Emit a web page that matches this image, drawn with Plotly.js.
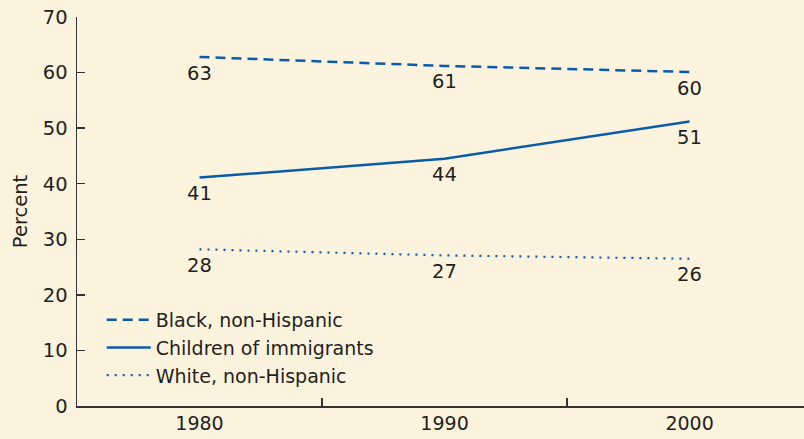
<!DOCTYPE html>
<html>
<head>
<meta charset="utf-8">
<script src="https://cdn.plot.ly/plotly-3.0.1.min.js"></script>
<style>
html,body{margin:0;padding:0;background:#fcf3df;}
#chart{width:804px;height:439px;}
</style>
</head>
<body>
<div id="chart"></div>
<script>
var years = [1980, 1990, 2000];
var blackValues = [62.8, 61.2, 60.1];
var blackLabels = ["63", "61", "60"];
var childrenValues = [41.1, 44.5, 51.2];
var childrenLabels = ["41", "44", "51"];
var whiteValues = [28.2, 27.1, 26.5];
var whiteLabels = ["28", "27", "26"];
var seriesNames = ["Black, non-Hispanic", "Children of immigrants", "White, non-Hispanic"];
var yTicks = [0, 10, 20, 30, 40, 50, 60, 70];

var blue = "#0b5ca8";
var textColor = "#231f20";
var fam = "DejaVu Sans, sans-serif";

function trace(values, name, dash, width) {
  return {
    x: years, y: values, name: name,
    type: "scatter", mode: "lines",
    line: {color: blue, width: width, dash: dash},
    hoverinfo: "skip"
  };
}

var data = [
  trace(blackValues, seriesNames[0], "10px,6px", 2.5),
  trace(childrenValues, seriesNames[1], "solid", 2.5),
  trace(whiteValues, seriesNames[2], "2px,6px", 2.2)
];

var annotations = [];
[[blackValues, blackLabels], [childrenValues, childrenLabels], [whiteValues, whiteLabels]].forEach(function (s) {
  years.forEach(function (yr, i) {
    annotations.push({
      x: yr, y: s[0][i], text: s[1][i], showarrow: false,
      xanchor: "center", yanchor: "middle", yshift: -16,
      font: {family: fam, size: 19.5, color: textColor}
    });
  });
});

var layout = {
  width: 804, height: 439,
  paper_bgcolor: "#fcf3df", plot_bgcolor: "#fcf3df",
  margin: {l: 77, r: 0, t: 17, b: 33},
  font: {family: fam, size: 19, color: textColor},
  showlegend: true,
  annotations: annotations,
  legend: {
    x: 0.034, y: 0.27, xanchor: "left", yanchor: "top",
    bgcolor: "rgba(0,0,0,0)", font: {family: fam, size: 19, color: textColor},
    tracegroupgap: 0, itemwidth: 44
  },
  xaxis: {
    range: [1975, 2004.67],
    tickvals: years, ticktext: years.map(String),
    ticks: "", showgrid: false, zeroline: false,
    showline: true, linecolor: "#333333", linewidth: 1.5,
    tickfont: {family: fam, size: 19, color: textColor},
    minor: {tickvals: [1985, 1995], ticks: "inside", ticklen: 8, tickcolor: "#333333", tickwidth: 1.5, showgrid: false}
  },
  yaxis: {
    range: [0, 70], tickvals: yTicks,
    ticks: "inside", ticklen: 8, tickcolor: "#333333", tickwidth: 1.5,
    showgrid: false, zeroline: false,
    showline: true, linecolor: "#333333", linewidth: 1.5,
    tickfont: {family: fam, size: 19.5, color: textColor},
    ticklabelstandoff: 4,
    title: {text: "Percent", font: {family: fam, size: 19.5, color: textColor}, standoff: 10}
  }
};

Plotly.newPlot("chart", data, layout, {displayModeBar: false, staticPlot: true});
</script>
</body>
</html>
